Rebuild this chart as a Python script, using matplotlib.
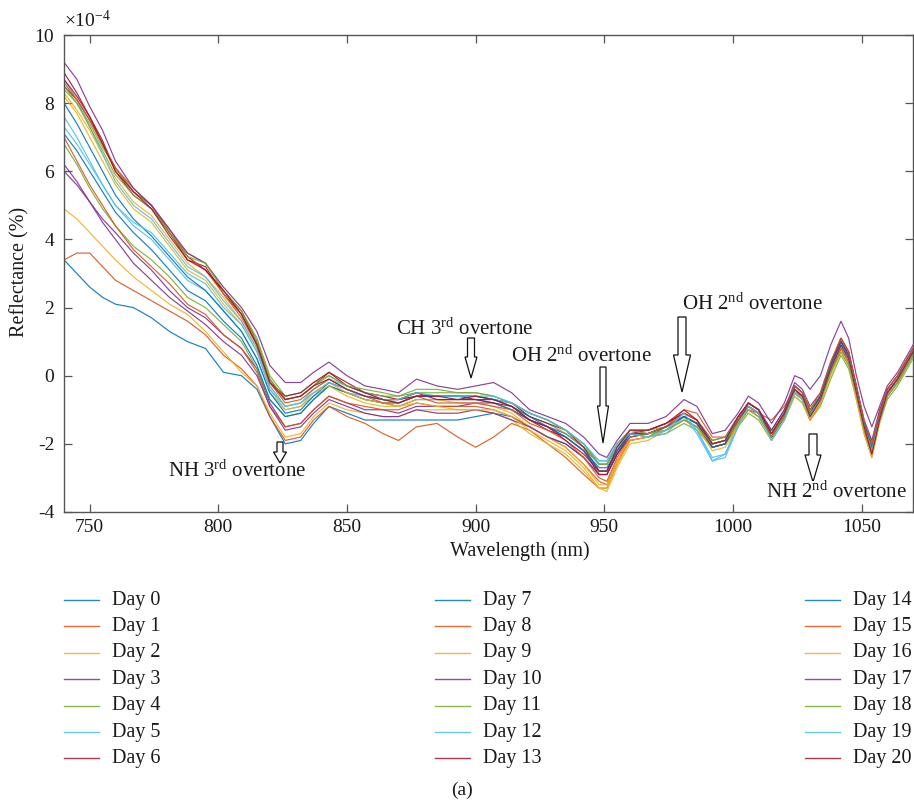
import matplotlib
matplotlib.use("Agg")
import matplotlib.pyplot as plt
from matplotlib.patches import Polygon
from matplotlib.lines import Line2D

plt.rcParams['font.family'] = ['Liberation Serif', 'DejaVu Serif']
plt.rcParams['mathtext.fontset'] = 'custom'
plt.rcParams['mathtext.rm'] = 'Liberation Serif'
plt.rcParams['mathtext.it'] = 'Liberation Serif:italic'
plt.rcParams['axes.unicode_minus'] = False

# ---------------- data (reflectance, x1e-4) ----------------
wavelength = [740, 745, 750, 755, 760, 767, 774, 781, 788, 795,
              802, 809, 815, 820, 826, 832, 837, 843, 850, 857,
              864, 870, 877, 885, 893, 900, 907, 914, 921, 928,
              935, 942, 948, 951, 955, 960, 967, 974, 981, 986,
              992, 997, 1002, 1006, 1010, 1015, 1020, 1024, 1027, 1030,
              1034, 1038, 1042, 1045, 1048, 1051, 1054, 1057, 1060, 1064,
              1070]

day0 = [3.4, 3.0, 2.6, 2.3, 2.1, 2.0, 1.7, 1.3, 1.0, 0.8,
        0.1, 0.0, -0.4, -1.2, -2.0, -1.9, -1.4, -0.9, -1.1, -1.3,
        -1.3, -1.3, -1.3, -1.3, -1.3, -1.2, -1.1, -1.2, -1.5, -1.8,
        -2.0, -2.4, -2.9, -2.9, -2.3, -1.8, -1.7, -1.5, -1.2, -1.4,
        -2.0, -1.9, -1.3, -0.9, -1.1, -1.8, -1.2, -0.5, -0.7, -1.2,
        -0.7, 0.2, 0.9, 0.5, -0.5, -1.5, -2.2, -1.2, -0.5, -0.1,
        0.7]
day1 = [3.4, 3.6, 3.6, 3.2, 2.8, 2.5, 2.2, 1.9, 1.6, 1.2,
        0.6, 0.2, -0.3, -1.2, -1.9, -1.8, -1.3, -0.9, -1.2, -1.4,
        -1.7, -1.9, -1.5, -1.4, -1.8, -2.1, -1.8, -1.4, -1.6, -2.0,
        -2.4, -2.9, -3.3, -3.3, -2.6, -1.9, -1.8, -1.5, -1.0, -1.1,
        -1.8, -1.8, -1.4, -1.0, -1.1, -1.3, -0.9, -0.4, -0.7, -1.3,
        -0.8, 0.1, 0.8, 0.4, -0.6, -1.6, -2.3, -1.3, -0.6, -0.2,
        0.6]
day2 = [4.9, 4.6, 4.2, 3.8, 3.4, 2.9, 2.5, 2.1, 1.8, 1.3,
        0.7, 0.1, -0.3, -1.1, -1.8, -1.7, -1.2, -0.8, -1.0, -1.1,
        -1.2, -1.2, -1.0, -1.0, -1.0, -1.0, -1.1, -1.3, -1.7, -2.0,
        -2.3, -2.8, -3.3, -3.4, -2.7, -2.0, -1.9, -1.6, -1.3, -1.5,
        -2.1, -2.0, -1.4, -0.9, -1.1, -1.8, -1.2, -0.5, -0.7, -1.3,
        -0.8, 0.1, 0.8, 0.4, -0.6, -1.6, -2.3, -1.3, -0.6, -0.2,
        0.6]
day3 = [6.0, 5.6, 5.1, 4.6, 4.2, 3.6, 3.1, 2.5, 2.0, 1.7,
        1.2, 0.8, 0.2, -0.8, -1.5, -1.4, -1.0, -0.6, -0.8, -1.0,
        -1.0, -1.1, -0.9, -0.9, -0.9, -0.8, -0.8, -1.0, -1.3, -1.5,
        -1.7, -2.1, -2.6, -2.6, -2.1, -1.6, -1.6, -1.4, -1.1, -1.3,
        -1.9, -1.8, -1.2, -0.8, -1.0, -1.6, -1.0, -0.2, -0.4, -0.9,
        -0.5, 0.4, 1.1, 0.7, -0.3, -1.3, -1.9, -1.0, -0.4, 0.0,
        0.8]
day4 = [6.8, 6.2, 5.5, 4.9, 4.4, 3.8, 3.4, 2.9, 2.3, 2.0,
        1.5, 1.0, 0.2, -0.7, -1.2, -1.1, -0.7, -0.3, -0.5, -0.7,
        -0.8, -0.8, -0.6, -0.6, -0.6, -0.6, -0.7, -0.9, -1.2, -1.4,
        -1.7, -2.1, -2.6, -2.6, -2.1, -1.7, -1.8, -1.7, -1.4, -1.6,
        -2.1, -2.0, -1.5, -1.1, -1.3, -1.9, -1.3, -0.6, -0.8, -1.3,
        -0.9, -0.1, 0.6, 0.2, -0.7, -1.7, -2.4, -1.4, -0.7, -0.3,
        0.5]
day5 = [7.6, 7.0, 6.3, 5.6, 5.0, 4.4, 4.0, 3.4, 2.8, 2.5,
        1.9, 1.3, 0.5, -0.5, -1.0, -0.9, -0.6, -0.3, -0.5, -0.6,
        -0.7, -0.7, -0.6, -0.6, -0.6, -0.6, -0.7, -0.8, -1.1, -1.3,
        -1.6, -2.0, -2.5, -2.5, -2.0, -1.6, -1.7, -1.6, -1.2, -1.7,
        -2.5, -2.3, -1.4, -0.8, -1.0, -1.8, -1.2, -0.4, -0.6, -1.1,
        -0.6, 0.3, 1.0, 0.6, -0.4, -1.4, -2.1, -1.2, -0.5, -0.1,
        0.7]
day6 = [8.5, 8.1, 7.5, 6.8, 6.1, 5.4, 5.0, 4.2, 3.5, 3.1,
        2.5, 1.9, 1.0, -0.1, -0.7, -0.6, -0.3, 0.1, -0.2, -0.5,
        -0.6, -0.7, -0.6, -0.6, -0.6, -0.7, -0.7, -0.8, -1.2, -1.4,
        -1.6, -2.1, -2.8, -2.8, -2.2, -1.7, -1.6, -1.4, -1.1, -1.3,
        -2.1, -2.0, -1.3, -0.8, -1.0, -1.8, -1.2, -0.4, -0.6, -1.1,
        -0.6, 0.3, 1.1, 0.7, -0.3, -1.4, -2.1, -1.1, -0.4, 0.0,
        0.8]
day7 = [7.1, 6.6, 6.0, 5.4, 4.8, 4.2, 3.7, 3.1, 2.5, 2.2,
        1.6, 1.1, 0.3, -0.7, -1.2, -1.1, -0.7, -0.3, -0.5, -0.7,
        -0.8, -0.9, -0.7, -0.7, -0.7, -0.7, -0.8, -1.0, -1.3, -1.5,
        -1.8, -2.2, -2.7, -2.7, -2.2, -1.7, -1.7, -1.5, -1.2, -1.4,
        -2.0, -1.9, -1.3, -0.9, -1.1, -1.7, -1.1, -0.4, -0.6, -1.1,
        -0.6, 0.2, 0.9, 0.5, -0.5, -1.5, -2.2, -1.3, -0.6, -0.2,
        0.6]
day8 = [7.0, 6.3, 5.6, 5.0, 4.4, 3.7, 3.2, 2.7, 2.1, 1.8,
        1.2, 0.8, 0.1, -0.9, -1.5, -1.4, -1.0, -0.6, -0.8, -0.9,
        -1.0, -1.0, -0.8, -0.9, -0.9, -0.9, -1.0, -1.2, -1.5, -1.8,
        -2.1, -2.6, -3.1, -3.2, -2.5, -1.9, -1.8, -1.6, -1.3, -1.5,
        -2.1, -2.0, -1.4, -1.0, -1.2, -1.8, -1.2, -0.5, -0.7, -1.3,
        -0.8, 0.1, 0.8, 0.4, -0.6, -1.6, -2.3, -1.3, -0.6, -0.2,
        0.6]
day9 = [8.3, 7.8, 7.2, 6.5, 5.8, 5.1, 4.7, 4.0, 3.3, 2.9,
        2.3, 1.6, 0.8, -0.3, -0.9, -0.8, -0.5, -0.2, -0.5, -0.7,
        -0.8, -0.9, -0.7, -0.7, -0.8, -0.8, -0.9, -1.1, -1.5, -1.8,
        -2.1, -2.6, -3.2, -3.2, -2.5, -1.8, -1.7, -1.5, -1.2, -1.4,
        -2.1, -2.0, -1.4, -0.9, -1.1, -1.8, -1.2, -0.5, -0.7, -1.2,
        -0.7, 0.2, 0.9, 0.5, -0.5, -1.5, -2.2, -1.3, -0.5, -0.1,
        0.7]
day10 = [6.2, 5.7, 5.1, 4.5, 4.0, 3.3, 2.8, 2.3, 1.9, 1.5,
         1.0, 0.6, 0.0, -0.9, -1.6, -1.5, -1.1, -0.7, -0.9, -1.1,
         -1.2, -1.2, -1.0, -1.1, -1.1, -1.0, -1.1, -1.3, -1.5, -1.8,
         -2.0, -2.4, -2.9, -2.9, -2.3, -1.8, -1.7, -1.5, -1.2, -1.4,
         -2.0, -1.9, -1.3, -0.8, -1.0, -1.6, -1.0, -0.3, -0.5, -1.0,
         -0.6, 0.3, 1.0, 0.6, -0.4, -1.4, -2.0, -1.2, -0.5, -0.1,
         0.7]
day11 = [8.4, 8.0, 7.4, 6.7, 6.1, 5.4, 5.0, 4.2, 3.6, 3.3,
         2.5, 1.9, 1.1, 0.0, -0.6, -0.5, -0.2, 0.0, -0.3, -0.5,
         -0.6, -0.6, -0.5, -0.5, -0.5, -0.5, -0.6, -0.8, -1.1, -1.3,
         -1.6, -2.0, -2.6, -2.6, -2.0, -1.6, -1.6, -1.5, -1.2, -1.4,
         -1.9, -1.8, -1.3, -0.9, -1.1, -1.7, -1.1, -0.3, -0.5, -1.0,
         -0.6, 0.3, 0.9, 0.5, -0.4, -1.4, -2.1, -1.2, -0.5, -0.1,
         0.7]
day12 = [8.7, 8.1, 7.3, 6.5, 5.7, 5.0, 4.6, 3.9, 3.2, 2.9,
         2.2, 1.6, 0.8, -0.3, -0.9, -0.8, -0.4, -0.1, -0.3, -0.5,
         -0.7, -0.7, -0.5, -0.6, -0.6, -0.6, -0.7, -0.8, -1.1, -1.3,
         -1.6, -2.0, -2.6, -2.6, -2.1, -1.7, -1.8, -1.7, -1.2, -1.6,
         -2.4, -2.3, -1.5, -0.9, -1.1, -1.9, -1.3, -0.5, -0.7, -1.2,
         -0.7, 0.2, 0.9, 0.5, -0.5, -1.5, -2.2, -1.3, -0.5, -0.1,
         0.7]
day13 = [8.9, 8.3, 7.6, 6.9, 6.0, 5.3, 4.9, 4.2, 3.4, 3.2,
         2.4, 1.8, 0.9, -0.2, -0.6, -0.5, -0.2, 0.1, -0.3, -0.5,
         -0.7, -0.7, -0.5, -0.7, -0.7, -0.7, -0.8, -0.9, -1.3, -1.6,
         -1.8, -2.2, -2.9, -2.9, -2.3, -1.7, -1.7, -1.5, -1.2, -1.4,
         -2.1, -2.0, -1.3, -0.9, -1.1, -1.8, -1.2, -0.3, -0.5, -1.1,
         -0.6, 0.3, 1.0, 0.6, -0.4, -1.4, -2.2, -1.2, -0.5, -0.1,
         0.7]
day14 = [8.0, 7.4, 6.7, 6.0, 5.3, 4.6, 4.1, 3.5, 2.9, 2.5,
         1.9, 1.3, 0.5, -0.5, -1.1, -1.0, -0.6, -0.2, -0.4, -0.6,
         -0.7, -0.8, -0.6, -0.6, -0.6, -0.6, -0.7, -0.9, -1.2, -1.5,
         -1.8, -2.2, -2.8, -2.8, -2.2, -1.7, -1.7, -1.5, -1.2, -1.4,
         -2.1, -2.0, -1.3, -0.8, -1.0, -1.7, -1.1, -0.3, -0.5, -1.1,
         -0.6, 0.3, 1.0, 0.6, -0.4, -1.4, -2.1, -1.2, -0.5, -0.1,
         0.7]
day15 = [8.6, 8.1, 7.5, 6.8, 6.1, 5.5, 5.0, 4.3, 3.5, 3.1,
         2.4, 1.7, 0.9, -0.2, -0.8, -0.7, -0.4, -0.1, -0.4, -0.6,
         -0.8, -0.8, -0.6, -0.8, -0.8, -0.8, -0.9, -1.0, -1.4, -1.6,
         -1.9, -2.4, -3.0, -3.1, -2.4, -1.8, -1.7, -1.5, -1.1, -1.3,
         -2.0, -1.9, -1.3, -0.8, -1.0, -1.7, -1.1, -0.3, -0.5, -1.0,
         -0.5, 0.4, 1.1, 0.7, -0.3, -1.3, -2.0, -1.1, -0.4, 0.0,
         0.8]
day16 = [8.2, 7.7, 7.0, 6.3, 5.6, 4.9, 4.5, 3.8, 3.1, 2.8,
         2.1, 1.5, 0.7, -0.4, -1.0, -0.9, -0.5, -0.3, -0.6, -0.8,
         -0.9, -0.9, -0.8, -0.9, -1.0, -1.0, -1.0, -1.2, -1.6, -1.9,
         -2.2, -2.7, -3.3, -3.3, -2.6, -1.9, -1.8, -1.6, -1.3, -1.5,
         -2.2, -2.1, -1.5, -1.0, -1.2, -1.9, -1.3, -0.6, -0.8, -1.3,
         -0.8, 0.0, 0.7, 0.3, -0.7, -1.7, -2.4, -1.4, -0.6, -0.2,
         0.6]
day17 = [9.2, 8.7, 7.9, 7.2, 6.3, 5.5, 5.0, 4.3, 3.6, 3.3,
         2.6, 2.0, 1.3, 0.3, -0.2, -0.2, 0.1, 0.4, 0.0, -0.3,
         -0.4, -0.5, -0.1, -0.3, -0.4, -0.3, -0.2, -0.5, -1.0, -1.2,
         -1.4, -1.8, -2.3, -2.4, -1.9, -1.4, -1.4, -1.2, -0.7, -0.9,
         -1.7, -1.6, -1.1, -0.6, -0.8, -1.4, -0.8, 0.0, -0.1, -0.4,
         0.0, 0.9, 1.6, 1.1, 0.0, -0.9, -1.5, -0.9, -0.3, 0.1,
         0.9]
day18 = [8.5, 8.0, 7.3, 6.6, 5.9, 5.3, 4.9, 4.2, 3.5, 3.3,
         2.5, 1.8, 1.0, -0.1, -0.7, -0.6, -0.3, 0.0, -0.3, -0.4,
         -0.5, -0.6, -0.4, -0.4, -0.5, -0.5, -0.6, -0.8, -1.1, -1.3,
         -1.6, -2.0, -2.6, -2.6, -2.0, -1.6, -1.7, -1.6, -1.3, -1.5,
         -2.0, -1.9, -1.4, -1.0, -1.2, -1.8, -1.2, -0.4, -0.6, -1.1,
         -0.7, 0.1, 0.7, 0.3, -0.5, -1.5, -2.2, -1.3, -0.6, -0.2,
         0.6]
day19 = [7.3, 6.8, 6.2, 5.6, 5.0, 4.5, 4.2, 3.6, 3.0, 2.7,
         2.0, 1.5, 0.7, -0.4, -0.9, -0.8, -0.5, -0.2, -0.4, -0.6,
         -0.7, -0.7, -0.5, -0.6, -0.6, -0.6, -0.6, -0.8, -1.1, -1.3,
         -1.6, -2.0, -2.5, -2.5, -2.0, -1.7, -1.8, -1.6, -1.1, -1.6,
         -2.5, -2.4, -1.5, -0.9, -1.1, -1.9, -1.3, -0.5, -0.7, -1.2,
         -0.7, 0.2, 0.9, 0.5, -0.5, -1.5, -2.2, -1.3, -0.5, -0.1,
         0.7]
day20 = [8.7, 8.2, 7.6, 6.8, 6.0, 5.4, 4.9, 4.1, 3.4, 3.1,
         2.5, 1.8, 0.9, -0.2, -0.7, -0.6, -0.3, -0.1, -0.4, -0.6,
         -0.7, -0.8, -0.6, -0.6, -0.7, -0.6, -0.7, -0.9, -1.3, -1.5,
         -1.9, -2.3, -2.8, -2.8, -2.1, -1.6, -1.6, -1.4, -1.0, -1.3,
         -2.0, -1.9, -1.2, -0.8, -1.0, -1.7, -1.1, -0.4, -0.6, -1.2,
         -0.7, 0.2, 0.9, 0.5, -0.5, -1.5, -2.3, -1.3, -0.5, -0.1,
         0.7]

series = [day0, day1, day2, day3, day4, day5, day6, day7, day8, day9, day10,
          day11, day12, day13, day14, day15, day16, day17, day18, day19, day20]
labels = ["Day %d" % i for i in range(21)]
palette = ['#0072BD', '#D95319', '#EDB120', '#7E2F8E', '#77AC30', '#4DBEEE', '#A2142F']
xticks = [750, 800, 850, 900, 950, 1000, 1050]
yticks = [-4, -2, 0, 2, 4, 6, 8, 10]

# ---------------- figure ----------------
W, H = 914, 809
fig = plt.figure(figsize=(W / 100, H / 100), dpi=100)
fig.patch.set_facecolor('white')

def fx(px):
    return px / W

def fy(py):
    return 1 - py / H

ax = fig.add_axes([fx(64), fy(512), fx(913) - fx(64), fy(35) - fy(512)])
for i, ys in enumerate(series):
    ax.plot(wavelength, ys, color=palette[i % 7], lw=0.85, alpha=0.9,
            solid_joinstyle='round')

ax.set_xlim(740, 1070)
ax.set_ylim(-4, 10)
ax.set_xticks(xticks)
ax.set_yticks(yticks)
ax.set_xticklabels([str(t) for t in xticks])
ax.set_yticklabels([str(t) for t in yticks])
ax.tick_params(direction='in', top=True, right=True, length=6, width=0.9,
               color='#555555', labelsize=14, labelcolor='#1a1a1a')
ax.tick_params(axis='y', pad=7)
ax.tick_params(axis='x', pad=5)
for s in ax.spines.values():
    s.set_color('#555555')
    s.set_linewidth(1.0)

fig.text(fx(64), fy(20), r'$\times$10$^{-4}$', fontsize=14, ha='left', va='center', color='#1a1a1a')
fig.text(fx(520), fy(551), 'Wavelength (nm)', fontsize=14.5, ha='center', va='center', color='#1a1a1a')
fig.text(fx(20), fy(272), 'Reflectance (%)', fontsize=14.5, ha='center', va='center',
         rotation=90, color='#1a1a1a')

# ---------------- annotations ----------------
def hollow_arrow(xc, ytop, ytip, body_w, head_w, head_len):
    yh = ytip - head_len
    pts = [(xc - body_w / 2, ytop), (xc + body_w / 2, ytop), (xc + body_w / 2, yh),
           (xc + head_w / 2, yh), (xc, ytip), (xc - head_w / 2, yh), (xc - body_w / 2, yh)]
    poly = Polygon([(fx(a), fy(b)) for a, b in pts], closed=True, transform=fig.transFigure,
                   facecolor='white', edgecolor='#111111', lw=0.9, zorder=5)
    fig.add_artist(poly)

hollow_arrow(280, 442, 463, 6, 13, 11)
hollow_arrow(471, 338, 378, 7, 12, 21)
hollow_arrow(603, 367, 443, 6, 11, 37)
hollow_arrow(682, 317, 392, 8, 17, 37)
hollow_arrow(813, 434, 482, 8, 16, 27)

ann_kw = dict(fontsize=15, ha='left', va='center', color='#1a1a1a', zorder=6)
fig.text(fx(168), fy(471), r'NH 3$^{\rm rd}$ overtone', **ann_kw)
fig.text(fx(396), fy(329), r'CH 3$^{\rm rd}$ overtone', **ann_kw)
fig.text(fx(511), fy(356), r'OH 2$^{\rm nd}$ overtone', **ann_kw)
fig.text(fx(682), fy(304), r'OH 2$^{\rm nd}$ overtone', **ann_kw)
fig.text(fx(766), fy(492), r'NH 2$^{\rm nd}$ overtone',
         bbox=dict(facecolor='white', edgecolor='none', pad=0.5), **ann_kw)

# ---------------- legend (3 columns, 7 rows) ----------------
col_x = [64, 435, 805]
row_y0, row_dy = 600, 26.4
for i, lab in enumerate(labels):
    c, r = divmod(i, 7)
    y = row_y0 + r * row_dy
    x0 = col_x[c]
    fig.add_artist(Line2D([fx(x0), fx(x0 + 35)], [fy(y), fy(y)], transform=fig.transFigure,
                          color=palette[i % 7], lw=1.0, alpha=0.85))
    fig.text(fx(x0 + 48), fy(y), lab, fontsize=14.5, ha='left', va='center', color='#1a1a1a')

fig.text(fx(462), fy(790), '(a)', fontsize=14, ha='center', va='center', color='#1a1a1a')

fig.savefig('out.png', dpi=100, facecolor='white')
